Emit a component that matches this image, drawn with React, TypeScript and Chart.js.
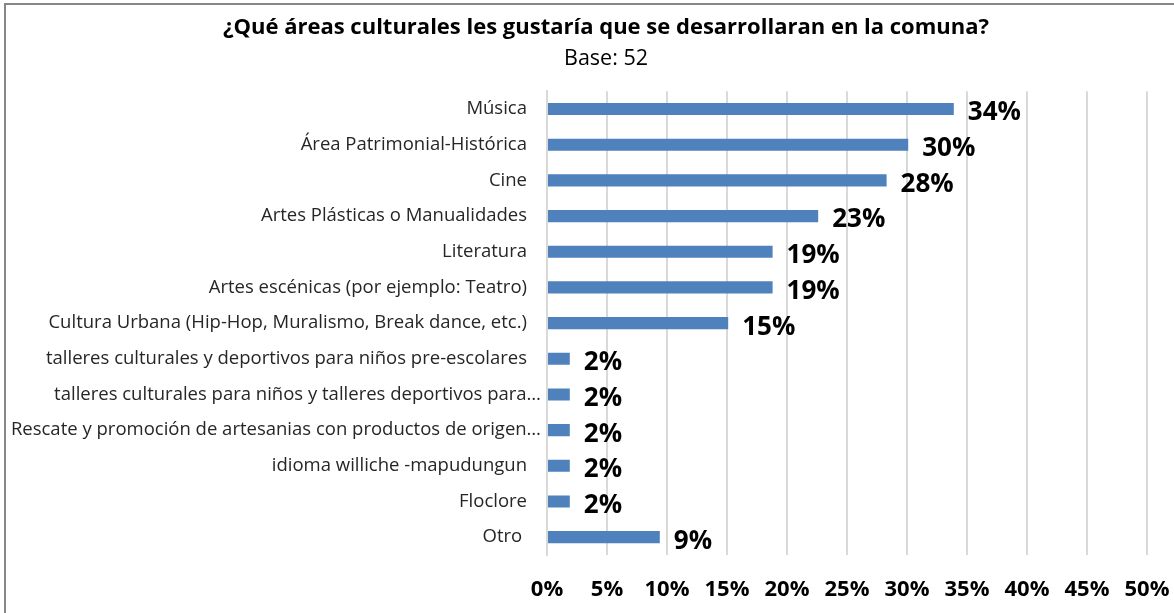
import React, { useEffect, useRef } from "react";
import { Chart, registerables } from "chart.js";

Chart.register(...registerables);

const titleText = "¿Qué áreas culturales les gustaría que se desarrollaran en la comuna?";
const subtitleText = "Base: 52";

const categories = [
  "Música",
  "Área Patrimonial-Histórica",
  "Cine",
  "Artes Plásticas o Manualidades",
  "Literatura",
  "Artes escénicas (por ejemplo: Teatro)",
  "Cultura Urbana (Hip-Hop, Muralismo, Break dance, etc.)",
  "talleres culturales y deportivos para niños pre-escolares",
  "talleres culturales para niños y talleres deportivos para…",
  "Rescate y promoción de artesanias con productos de origen…",
  "idioma williche -mapudungun",
  "Floclore",
  "Otro ",
];

const values = [33.9, 30.1, 28.3, 22.6, 18.8, 18.8, 15.1, 1.9, 1.9, 1.9, 1.9, 1.9, 9.4];

const valueLabels = ["34%", "30%", "28%", "23%", "19%", "19%", "15%", "2%", "2%", "2%", "2%", "2%", "9%"];

const xMin = 0;
const xMax = 50;
const xStep = 5;

const FONT = "'Open Sans', 'Noto Sans', sans-serif";
const CAT_FONT_SIZE = 18.5;
const CAT_COLOR = "#262626";

// Excel lets truncated ("…") category labels run slightly past the others
const isTruncated = (label: string) => label.endsWith("…");

const valueLabelPlugin = {
  id: "valueLabelPlugin",
  afterDatasetsDraw(chart: any) {
    const ctx = chart.ctx;
    const meta = chart.getDatasetMeta(0);
    ctx.save();
    ctx.font = `bold 26px ${FONT}`;
    ctx.fillStyle = "#000000";
    ctx.textAlign = "left";
    ctx.textBaseline = "middle";
    meta.data.forEach((bar: any, i: number) => {
      ctx.fillText(valueLabels[i], bar.x + 14, bar.y + 4);
    });
    ctx.restore();
  },
};

// let the category labels use the whole width to the left of the axis
const widenLabelAreaPlugin = {
  id: "widenLabelAreaPlugin",
  afterLayout(chart: any) {
    if (chart.scales.y) chart.scales.y.left = 0;
  },
};

const truncatedLabelPlugin = {
  id: "truncatedLabelPlugin",
  afterDraw(chart: any) {
    const ctx = chart.ctx;
    const yScale = chart.scales.y;
    ctx.save();
    ctx.font = `${CAT_FONT_SIZE}px ${FONT}`;
    ctx.fillStyle = CAT_COLOR;
    ctx.textAlign = "right";
    ctx.textBaseline = "middle";
    categories.forEach((label, i) => {
      if (isTruncated(label)) {
        ctx.fillText(label, yScale.right - 6, yScale.getPixelForTick(i));
      }
    });
    ctx.restore();
  },
};

export default function App() {
  const canvasRef = useRef<HTMLCanvasElement | null>(null);

  useEffect(() => {
    document.body.style.margin = "0";
    document.body.style.overflow = "hidden";
    const canvas = canvasRef.current;
    if (!canvas) return;
    const chart = new Chart(canvas, {
      type: "bar",
      data: {
        labels: categories,
        datasets: [
          {
            data: values,
            backgroundColor: "#4F81BD",
            borderWidth: 0,
            barPercentage: 0.34,
            categoryPercentage: 1,
          },
        ],
      },
      options: {
        indexAxis: "y",
        responsive: true,
        maintainAspectRatio: false,
        animation: false,
        layout: { padding: { left: 65, right: 27, top: 0, bottom: 0 } },
        plugins: {
          legend: { display: false },
          tooltip: { enabled: false },
          title: {
            display: true,
            text: titleText,
            color: "#000000",
            font: { family: FONT, size: 22, weight: "bold" },
            padding: { top: 15, bottom: 4 },
          },
          subtitle: {
            display: true,
            text: subtitleText,
            color: "#000000",
            font: { family: FONT, size: 21.5, weight: "normal" },
            padding: { top: 1, bottom: 19 },
          },
        },
        scales: {
          x: {
            type: "linear",
            position: "bottom",
            min: xMin,
            max: xMax,
            ticks: {
              stepSize: xStep,
              padding: 22,
              color: "#000000",
              font: { family: FONT, size: 22, weight: "bold" },
              callback: (v: any) => `${v}%`,
            },
            grid: { color: "#d9d9d9", lineWidth: 2, drawTicks: false },
            border: { display: false },
            afterFit: (scale: any) => {
              scale.height = 58;
              scale.paddingLeft = 0;
              scale.paddingRight = 0;
            },
          },
          y: {
            ticks: {
              padding: 20,
              color: (c: any) => (isTruncated(categories[c.index] || "") ? "rgba(0,0,0,0)" : CAT_COLOR),
              font: { family: FONT, size: CAT_FONT_SIZE },
              autoSkip: false,
            },
            grid: { display: false, drawTicks: false },
            border: { display: true, color: "#d9d9d9", width: 2 },
            afterFit: (scale: any) => {
              scale.width = 482;
            },
          },
        },
      },
      plugins: [valueLabelPlugin, widenLabelAreaPlugin, truncatedLabelPlugin],
    });
    return () => chart.destroy();
  }, []);

  return (
    <div style={{ position: "absolute", left: 0, top: 0, width: 1174, height: 613, background: "#ffffff", overflow: "hidden" }}>
      <div
        style={{
          position: "absolute",
          left: 4,
          top: 3,
          width: 1170,
          height: 610,
          borderTop: "2px solid #878787",
          borderLeft: "2px solid #878787",
          boxSizing: "border-box",
        }}
      />
      <div style={{ position: "absolute", left: 0, top: 0, width: 1174, height: 613 }}>
        <canvas ref={canvasRef} />
      </div>
    </div>
  );
}
